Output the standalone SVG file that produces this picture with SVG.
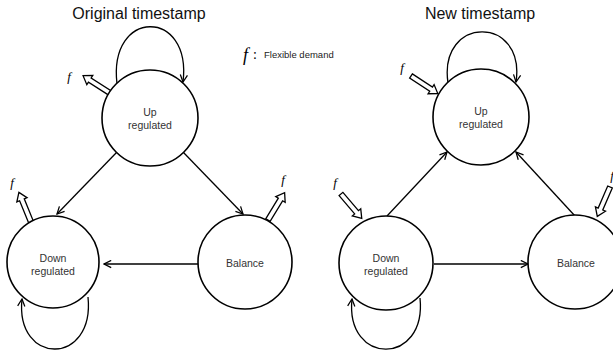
<svg xmlns="http://www.w3.org/2000/svg" xmlns:xlink="http://www.w3.org/1999/xlink" width="613" height="353" viewBox="0 0 613 353">
<style>
.node{fill:#fff;stroke:#000;stroke-width:1.6}
.lbl{font-family:"Liberation Sans",Arial,sans-serif;font-size:10.5px;fill:#333;text-anchor:middle}
.title{font-family:"Liberation Sans",Arial,sans-serif;font-size:16px;fill:#111;text-anchor:middle}
.edge{fill:none;stroke:#000;stroke-width:1.3;marker-end:url(#arr)}
.blk{fill:#fff;stroke:#000;stroke-width:1.3}
.f{font-family:"Liberation Serif","Times New Roman",serif;font-style:italic;font-size:13px;fill:#000;text-anchor:middle}
</style>
<defs>
<marker id="arr" viewBox="0 0 10 10" refX="9" refY="5" markerWidth="9" markerHeight="9" markerUnits="userSpaceOnUse" orient="auto">
<path d="M1,1 L9,5 L1,9" fill="none" stroke="#000" stroke-width="1.4"/>
</marker>
<polygon id="blk" class="blk" points="0,-2.5 24,-2.5 24,-5.5 32,0 24,5.5 24,2.5 0,2.5"/>
</defs>

<text class="title" x="139" y="19">Original timestamp</text>
<text class="title" x="480" y="19">New timestamp</text>

<g id="legend">
<text x="243" y="61" style="font-family:'Liberation Serif',serif;font-style:italic;font-size:18px">f</text>
<text x="253" y="59" style="font-family:'Liberation Serif',serif;font-size:14px">:</text>
<text x="264" y="58" style="font-family:'Liberation Sans',Arial,sans-serif;font-size:9.5px;fill:#222">Flexible demand</text>
</g>

<g id="connectors">
<path class="edge" d="M117,84 C108,8 192,8 183,82"/>
<path class="edge" d="M117,152 L57,214"/>
<path class="edge" d="M183,152 L243,214"/>
<path class="edge" d="M198,264 L104,264"/>
<path class="edge" d="M88,297 C95,366 15,366 22,299"/>

<path class="edge" d="M448,83 C438,15 526,15 516,82"/>
<path class="edge" d="M387,216 L447,152"/>
<path class="edge" d="M575,216 L516,152"/>
<path class="edge" d="M434,264 L528,264"/>
<path class="edge" d="M420,298 C427,366 345,366 352,299"/>
</g>

<g id="flex-left">
<use xlink:href="#blk" transform="translate(110,93) rotate(-147.3)"/>
<text class="f" x="69" y="81">f</text>
<use xlink:href="#blk" transform="translate(31,222) rotate(-112.2)"/>
<text class="f" x="12" y="187">f</text>
<use xlink:href="#blk" transform="translate(268,220) rotate(-58.7)"/>
<text class="f" x="283" y="184">f</text>
</g>
<g id="flex-right">
<use xlink:href="#blk" transform="translate(411,76) rotate(33.2)"/>
<text class="f" x="402" y="72">f</text>
<use xlink:href="#blk" transform="translate(341,194) rotate(49.6)"/>
<text class="f" x="335" y="187">f</text>
<use xlink:href="#blk" transform="translate(610,187) rotate(113.4)"/>
<text class="f" x="612" y="180">f</text>
</g>

<g id="up-left">
<circle class="node" cx="150" cy="118" r="48"/>
<text class="lbl" x="150" y="116">Up</text>
<text class="lbl" x="150" y="129">regulated</text>
</g>
<g id="down-left">
<circle class="node" cx="53" cy="262" r="46"/>
<text class="lbl" x="53" y="262">Down</text>
<text class="lbl" x="53" y="275">regulated</text>
</g>
<g id="balance-left">
<circle class="node" cx="245" cy="262" r="47"/>
<text class="lbl" x="245" y="267">Balance</text>
</g>

<g id="up-right">
<circle class="node" cx="481" cy="117" r="48"/>
<text class="lbl" x="481" y="115">Up</text>
<text class="lbl" x="481" y="128">regulated</text>
</g>
<g id="down-right">
<circle class="node" cx="386" cy="263" r="47"/>
<text class="lbl" x="386" y="262">Down</text>
<text class="lbl" x="386" y="275">regulated</text>
</g>
<g id="balance-right">
<circle class="node" cx="575" cy="262" r="47"/>
<text class="lbl" x="576" y="267">Balance</text>
</g>
</svg>
